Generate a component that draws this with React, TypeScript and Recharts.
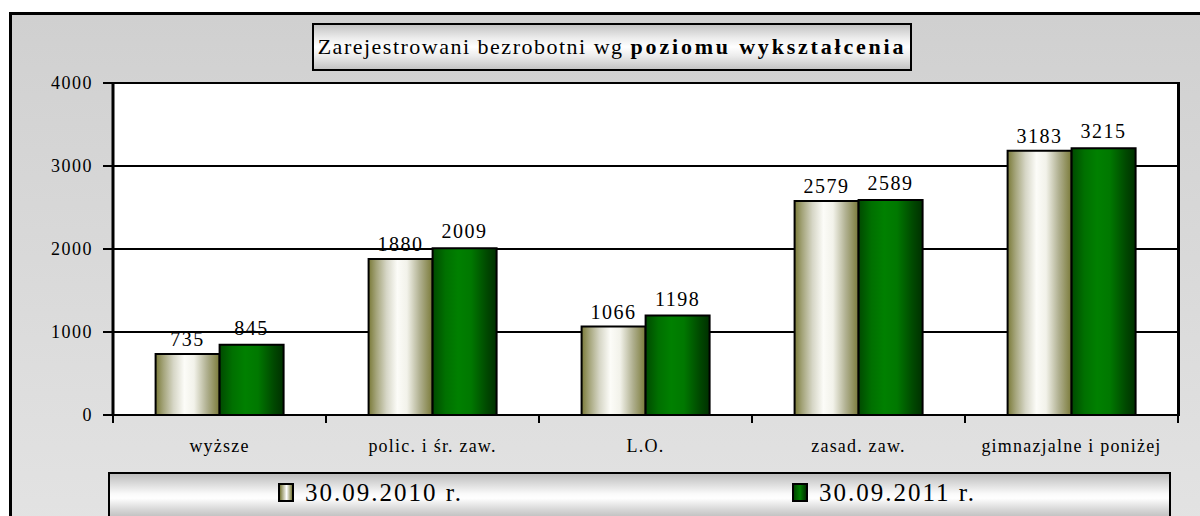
import React from 'react'
import { BarChart, Bar, XAxis, YAxis, CartesianGrid, LabelList } from 'recharts'

const categories = ['wyższe', 'polic. i śr. zaw.', 'L.O.', 'zasad. zaw.', 'gimnazjalne i poniżej']
const values2010 = [735, 1880, 1066, 2579, 3183]
const values2011 = [845, 2009, 1198, 2589, 3215]
const yTicks = [0, 1000, 2000, 3000, 4000]
const seriesNames = ['30.09.2010 r.', '30.09.2011 r.']

const data = categories.map((c, i) => ({ name: c, a: values2010[i], b: values2011[i] }))

const FONT = '"Liberation Serif", "DejaVu Serif", serif'
const PLOT_LEFT = 113
const PLOT_RIGHT = 1178
const PLOT_TOP = 83
const PLOT_BOTTOM = 415
const BAND = (PLOT_RIGHT - PLOT_LEFT) / categories.length

function XTick(props: any) {
  const { x, payload, index } = props
  const left = x - BAND / 2
  return (
    <g>
      <line x1={left} x2={left} y1={PLOT_BOTTOM} y2={PLOT_BOTTOM + 8} stroke="#000" strokeWidth={2} />
      {index === categories.length - 1 && (
        <line x1={x + BAND / 2} x2={x + BAND / 2} y1={PLOT_BOTTOM} y2={PLOT_BOTTOM + 8} stroke="#000" strokeWidth={2} />
      )}
      <text x={x} y={PLOT_BOTTOM + 37} textAnchor="middle" fontFamily={FONT} fontSize={18} letterSpacing={1.2} fill="#000">
        {payload.value}
      </text>
    </g>
  )
}

function LegendBox() {
  const swatch = (bg: string) => (
    <span
      style={{
        display: 'inline-block',
        width: 12,
        height: 15,
        border: '2px solid #000',
        background: bg,
        marginRight: 11,
        verticalAlign: '-1px',
      }}
    />
  )
  return (
    <div
      style={{
        position: 'absolute',
        left: 108,
        top: 472,
        width: 1063,
        height: 48,
        boxSizing: 'border-box',
        border: '2px solid #000',
        background:
          'linear-gradient(to bottom, #bdbdbd 0%, #d8d8d8 20%, #fafafa 45%, #ffffff 55%, #d8d8d8 80%, #bdbdbd 100%)',
        fontFamily: FONT,
        fontSize: 25,
        letterSpacing: 2,
        color: '#000',
      }}
    >
      <div style={{ position: 'absolute', left: 168, top: 5 }}>
        {swatch('linear-gradient(to right, #7a7a3a, #d8d8c8 40%, #ffffff 55%, #7a7a3a)')}
        {seriesNames[0]}
      </div>
      <div style={{ position: 'absolute', left: 682, top: 5 }}>
        {swatch('linear-gradient(to right, #004800, #008000 50%, #003000)')}
        {seriesNames[1]}
      </div>
    </div>
  )
}

export default function App() {
  return (
    <div style={{ position: 'absolute', left: 0, top: 0, width: 1200, height: 516, overflow: 'hidden', background: '#fff' }}>
      <div
        style={{
          position: 'absolute',
          left: 9,
          top: 12,
          width: 1220,
          height: 540,
          border: '3px solid #000',
          background: 'linear-gradient(to bottom, #d0d0d0, #e4e4e4)',
        }}
      />
      <div
        style={{
          position: 'absolute',
          left: 312,
          top: 23,
          width: 600,
          height: 48,
          boxSizing: 'border-box',
          border: '2px solid #000',
          background: 'linear-gradient(to bottom, #c4c4c4 0%, #ececec 30%, #ffffff 50%, #ececec 70%, #c4c4c4 100%)',
          fontFamily: FONT,
          fontSize: 22,
          color: '#000',
          display: 'flex',
          alignItems: 'center',
          justifyContent: 'center',
          whiteSpace: 'nowrap',
        }}
      >
        <span style={{ letterSpacing: 1.5 }}>Zarejestrowani bezrobotni wg&nbsp;</span>
        <b style={{ letterSpacing: 2.8 }}>poziomu wykształcenia</b>
      </div>
      <div style={{ position: 'absolute', left: 0, top: 0 }}>
        <BarChart
          width={1200}
          height={516}
          data={data}
          margin={{ top: PLOT_TOP, right: 1200 - PLOT_RIGHT, bottom: 71, left: 53 }}
          barCategoryGap="20%"
          barGap={0}
        >
          <defs>
            <linearGradient id="g2010" x1="0" y1="0" x2="1" y2="0">
              <stop offset="0%" stopColor="#7a7a38" />
              <stop offset="12%" stopColor="#a4a47a" />
              <stop offset="28%" stopColor="#d6d6c6" />
              <stop offset="45%" stopColor="#fcfcf8" />
              <stop offset="60%" stopColor="#f2f2ea" />
              <stop offset="80%" stopColor="#b0b090" />
              <stop offset="100%" stopColor="#7a7a38" />
            </linearGradient>
            <linearGradient id="g2011" x1="0" y1="0" x2="1" y2="0">
              <stop offset="0%" stopColor="#004a00" />
              <stop offset="20%" stopColor="#007000" />
              <stop offset="40%" stopColor="#008000" />
              <stop offset="60%" stopColor="#007800" />
              <stop offset="85%" stopColor="#004800" />
              <stop offset="100%" stopColor="#003000" />
            </linearGradient>
          </defs>
          <CartesianGrid vertical={false} stroke="#000" strokeWidth={2} fill="#fff" fillOpacity={1} />
          <XAxis
            dataKey="name"
            tick={<XTick />}
            tickLine={false}
            axisLine={{ stroke: '#000', strokeWidth: 2 }}
            interval={0}
            height={30}
          />
          <YAxis
            domain={[0, 4000]}
            ticks={yTicks}
            width={60}
            tickSize={10}
            tickMargin={10}
            tickLine={{ stroke: '#000', strokeWidth: 2 }}
            axisLine={{ stroke: '#000', strokeWidth: 3 }}
            tick={{ fontFamily: FONT, fontSize: 18, fill: '#000', letterSpacing: 1.5 }}
          />
          <Bar dataKey="a" name={seriesNames[0]} fill="url(#g2010)" stroke="#000" strokeWidth={2} isAnimationActive={false}>
            <LabelList dataKey="a" position="top" offset={8} style={{ fontFamily: FONT, fontSize: 20, fill: '#000', letterSpacing: 1.5 }} />
          </Bar>
          <Bar dataKey="b" name={seriesNames[1]} fill="url(#g2011)" stroke="#000" strokeWidth={2} isAnimationActive={false}>
            <LabelList dataKey="b" position="top" offset={10} style={{ fontFamily: FONT, fontSize: 20, fill: '#000', letterSpacing: 1.5 }} />
          </Bar>
        </BarChart>
      </div>
      {/* right border of the plot area */}
      <div
        style={{
          position: 'absolute',
          left: PLOT_RIGHT - 1.5,
          top: PLOT_TOP - 1,
          width: 3,
          height: PLOT_BOTTOM - PLOT_TOP + 2,
          background: '#000',
        }}
      />
      <LegendBox />
    </div>
  )
}
